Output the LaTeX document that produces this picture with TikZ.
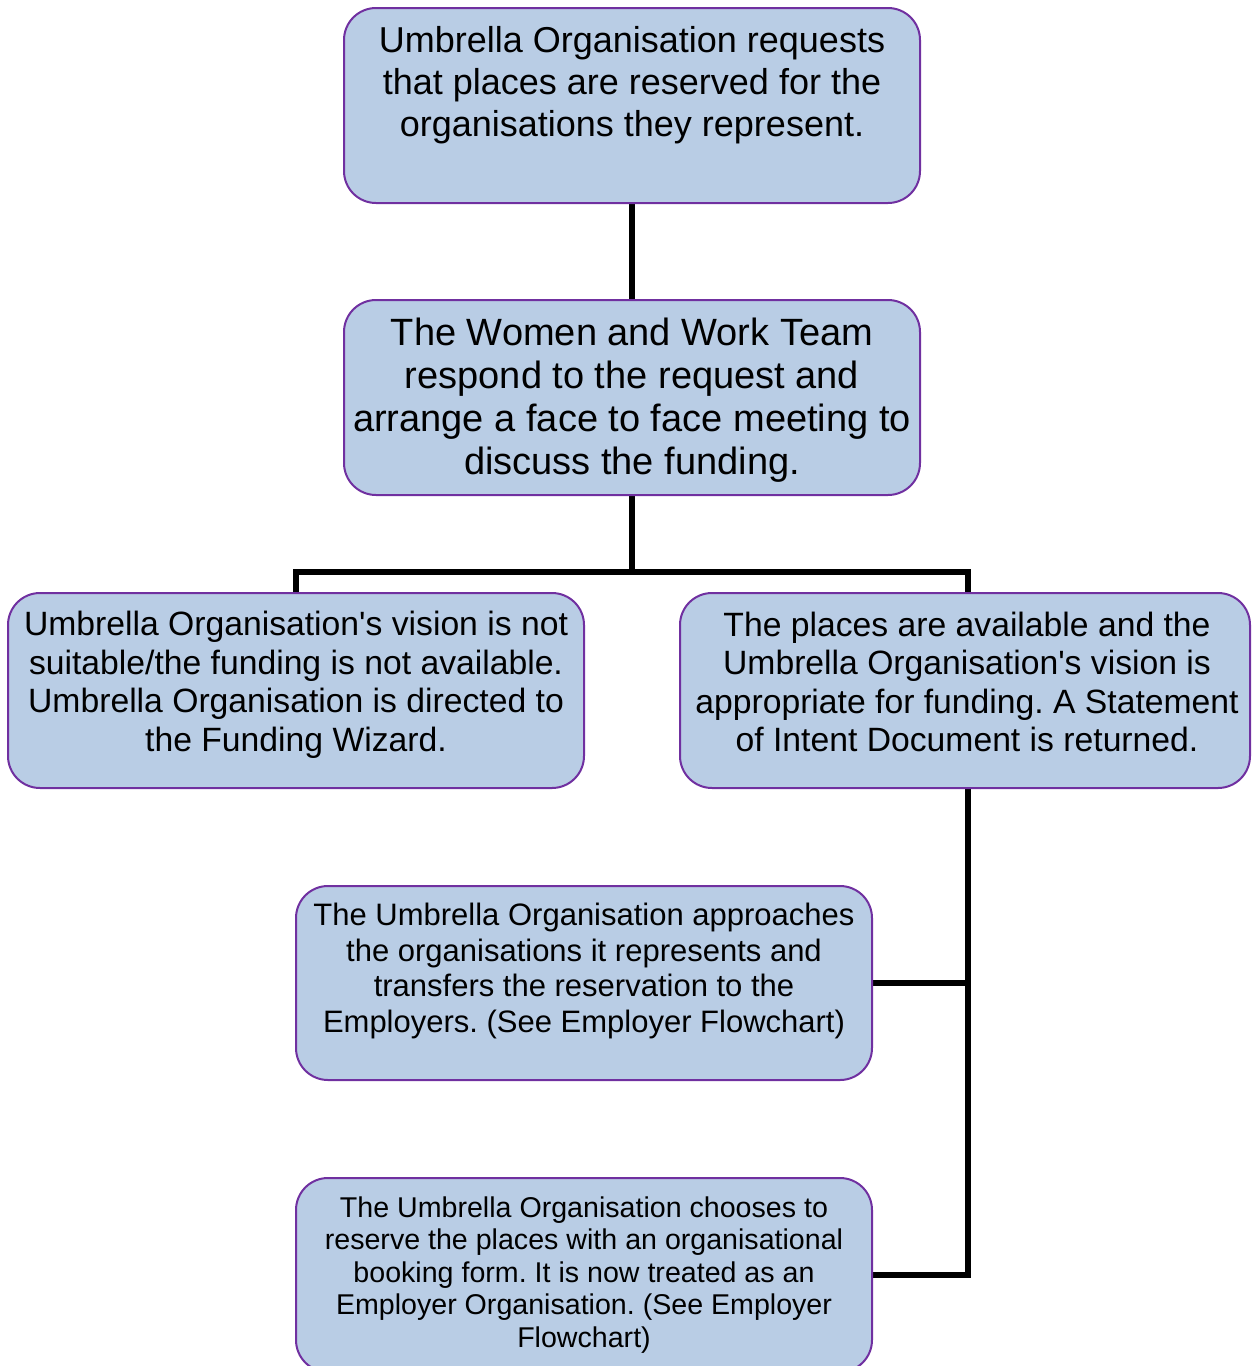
\documentclass[tikz,border=0pt]{standalone}
\usepackage{fontspec}
\setmainfont{Liberation Sans}[Ligatures=TeXOff]
\definecolor{boxfill}{HTML}{B9CDE5}
\definecolor{boxborder}{HTML}{7030A0}
\begin{document}
\frenchspacing
\begin{tikzpicture}[x=1pt,y=-1pt,
  box/.style={draw=none, fill=none, inner sep=0pt, outer sep=0pt, anchor=north west,
    minimum width=576pt, minimum height=195pt},
  boxdraw/.style={draw=boxborder, line width=2pt, fill=boxfill, rounded corners=32pt},
  conn/.style={line width=5.5pt, draw=black},
  txt/.style={align=center, inner sep=0pt, text=black},
  big/.style={font=\fontsize{36}{42.3}\selectfont},
  bigb/.style={font=\fontsize{38}{43}\selectfont},
  mid/.style={font=\fontsize{33.7}{38.5}\selectfont},
  sml/.style={font=\fontsize{31}{35.7}\selectfont},
  tiny/.style={font=\fontsize{28.6}{32.5}\selectfont}]
\useasboundingbox (0,0) rectangle (1252,1366);
\clip (0,0) rectangle (1252,1366);
% box frames (named nodes)
\path (344,8) node[box] (b1) {};
\path (344,300) node[box] (b2) {};
\path (8,593) node[box] (b3) {};
\path (680,593) node[box, minimum width=570pt] (b4) {};
\path (296,886) node[box, minimum height=194pt] (b5) {};
\path (296,1178) node[box, minimum height=194pt] (b6) {};
\coordinate (j1) at (632,572);
\coordinate (b4top) at (968,593);
\coordinate (b4bot) at (968,788);
% connectors
\draw[conn] (b1.south) -- (b2.north);
\draw[conn] (b2.south) -- (j1);
\draw[conn] (b3.north) |- (j1) -| (b4top);
\draw[conn] (b4bot) |- (b6.east);
\draw[conn] (b5.east) -- (b5.east -| b4bot);
% visible boxes
\foreach \n in {b1,b2,b3,b4,b5,b6}{
  \draw[boxdraw] (\n.north west) rectangle (\n.south east);
}
% texts
\node[txt, big] (t1) at (632,85) {Umbrella Organisation requests\\that places are reserved for the\\organisations they represent.};
\node[txt, bigb] (t2) at (632,400.5) {The Women and Work Team\\respond to the request and\\arrange a face to face meeting to\\discuss the funding.};
\node[txt, mid] (t3) at (296,685) {Umbrella Organisation's vision is not\\suitable/the funding is not available.\\Umbrella Organisation is directed to\\the Funding Wizard.};
\node[txt, mid] (t4) at (967,682) {The places are available and the\\Umbrella Organisation's vision is\\appropriate for funding. A Statement\\of Intent Document is returned.};
\node[txt, sml] (t5) at (584,971) {The Umbrella Organisation approaches\\the organisations it represents and\\transfers the reservation to the\\Employers. (See Employer Flowchart)};
\node[txt, tiny] (t6) at (584,1275) {The Umbrella Organisation chooses to\\reserve the places with an organisational\\booking form. It is now treated as an\\Employer Organisation. (See Employer\\Flowchart)};
\end{tikzpicture}
\end{document}
